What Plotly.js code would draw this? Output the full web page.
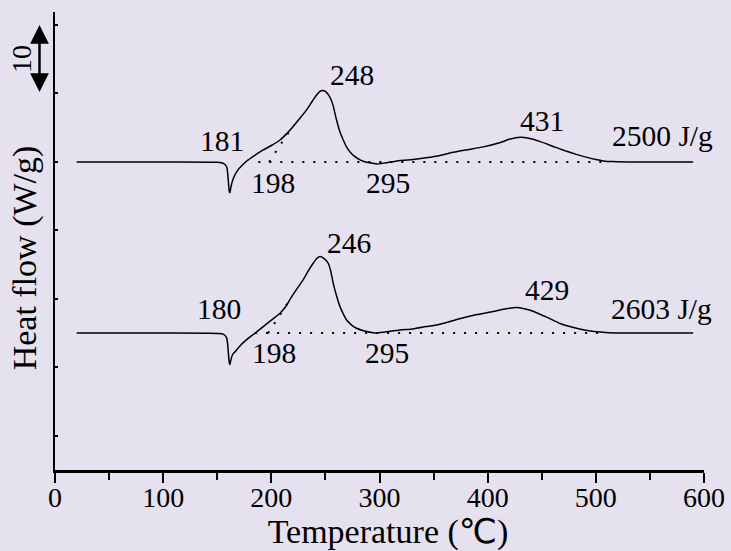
<!DOCTYPE html>
<html>
<head>
<meta charset="utf-8">
<script src="https://cdn.plot.ly/plotly-3.0.1.min.js"></script>
<style>html,body{margin:0;padding:0;background:#E5E1EF;}#chart{width:731px;height:551px;}</style>
</head>
<body>
<div id="chart"></div>
<script>
// Upper DSC curve (offset baseline 40)
const tempUpper = [20,100,150,155.6,158.7,161.1,161.7,162.5,164,166,169,173,177,185,192.5,200,208,214,220,226,232.6,238,242,245,247.5,250,254,257,260,263,266.5,269.5,272.6,277,282,288,294,297,305,319,331,343,356,365,380,396,411,420,430,438,448,460,473,482,491,500,507,515,530,590];
const flowUpper = [40,40,39.95,39.8,39.3,35.7,35.5,36.2,37.2,38.0,38.8,39.5,40.1,41.0,41.75,42.4,43.2,44.1,45.15,46.3,47.6,48.9,49.8,50.3,50.45,50.3,49.5,48.3,46.3,44.6,43.2,42.2,41.5,40.8,40.3,39.95,39.8,39.7,39.85,40.2,40.35,40.6,40.95,41.3,41.75,42.2,42.8,43.3,43.6,43.45,43.0,42.3,41.55,41.1,40.7,40.35,40.15,40.05,40,40];
// Lower DSC curve (offset baseline 15)
const tempLower = [20,100,150,155.6,158.7,161,161.7,162.5,164,166,168,172,177,185,192.5,200,208,213,217,223,229.5,235,238.7,242,245,248,252.6,255,257.2,260,263.4,266.5,269.6,274,278.8,286,294,297,305,319,331,343,356,374,390,405,417,427,434,442,455,467,476,485,495,504,512,530,590];
const flowLower = [15,15,14.95,14.85,14.3,10.8,10.4,11.0,11.8,12.2,12.55,13.3,14.0,15.0,15.95,16.9,17.9,18.8,19.85,21.3,22.8,24.3,25.2,25.9,26.2,26.0,25.2,24.0,22.3,20.6,18.9,17.8,16.9,16.2,15.7,15.3,15.05,15.0,15.15,15.45,15.6,15.95,16.3,17.1,17.7,18.15,18.55,18.75,18.55,18.2,17.3,16.4,15.95,15.6,15.3,15.15,15.05,15,15];
// Dotted baselines and onset tangents
const baseUpperT = [188,507], baseUpperY = [40,40];
const tanUpperT = [198,220], tanUpperY = [40,45.3];
const baseLowerT = [185,505], baseLowerY = [15,15];
const tanLowerT = [197,218], tanLowerY = [15,20.1];
// Labels
const labelText = ["181","198","248","295","431","2500 J/g","180","198","246","295","429","2603 J/g"];
const labelT    = [154,201.8,274.2,307.8,449.8,561.6,151.8,202.7,272,306.6,454.4,560.7];
const labelY    = [43.05,36.95,52.75,36.95,45.95,43.75,18.45,12.15,28.15,12.15,21.35,18.45];
const xTicks = [0,100,200,300,400,500,600];
const yTicks = [0,10,20,30,40,50,60];

const font = "Liberation Serif";
const solid = {color:'#000', width:1.5};
const dotted = {color:'#000', width:2, dash:'2px,9px'};
const traces = [
  {x:tempUpper, y:flowUpper, mode:'lines', line:Object.assign({shape:'spline', smoothing:0.6}, solid), name:'2500 J/g'},
  {x:tempLower, y:flowLower, mode:'lines', line:Object.assign({shape:'spline', smoothing:0.6}, solid), name:'2603 J/g'},
  {x:baseUpperT, y:baseUpperY, mode:'lines', line:dotted},
  {x:tanUpperT, y:tanUpperY, mode:'lines', line:dotted},
  {x:baseLowerT, y:baseLowerY, mode:'lines', line:dotted},
  {x:tanLowerT, y:tanLowerY, mode:'lines', line:dotted}
];
const annotations = labelText.map((t,i)=>({x:labelT[i], y:labelY[i], xref:'x', yref:'y', xanchor:'center', yanchor:'middle', text:t, showarrow:false, font:{family:font, size:29.5, color:'#000'}}));
// scale bar
annotations.push({xref:'paper', yref:'y', x:-0.0239, y:60, axref:'pixel', ayref:'y', ax:0, ay:50, showarrow:true, arrowside:'end+start', arrowhead:2, arrowsize:1.5, arrowwidth:2.5, arrowcolor:'#000', text:''});
annotations.push({xref:'paper', yref:'y', x:-0.0513, y:55, xanchor:'center', yanchor:'middle', text:'10', textangle:-90, showarrow:false, font:{family:font, size:28, color:'#000'}});

const layout = {
  width:731, height:551,
  paper_bgcolor:'#E5E1EF', plot_bgcolor:'#E5E1EF',
  margin:{l:55, r:27, t:12, b:81},
  showlegend:false,
  font:{family:font, size:28, color:'#000'},
  xaxis:{range:[0,600], tickvals:xTicks, ticktext:xTicks.map(String), ticks:'outside', ticklen:10, tickwidth:2, tickcolor:'#000',
    ticklabelstandoff:-9,
    minor:{ticks:'outside', ticklen:7, tickwidth:2, tickcolor:'#000', dtick:50, tick0:0},
    showline:true, linewidth:2.5, linecolor:'#000', showgrid:false, zeroline:false,
    tickfont:{family:font, size:28},
    title:{text:'&nbsp;&nbsp;Temperature (<span style="font-family:DejaVu Sans">℃</span>)', font:{family:font, size:34}, standoff:1}},
  yaxis:{range:[-5,61.9], tickvals:yTicks, showticklabels:false, ticks:'inside', ticklen:3, tickwidth:2, tickcolor:'#000',
    showline:true, linewidth:2, linecolor:'#000', showgrid:false, zeroline:false,
    title:{text:'Heat flow (W/g)&nbsp;&nbsp;&nbsp;&nbsp;', font:{family:font, size:34}, standoff:6}},
  annotations:annotations
};
Plotly.newPlot('chart', traces, layout, {staticPlot:true, displayModeBar:false});
</script>
</body>
</html>
